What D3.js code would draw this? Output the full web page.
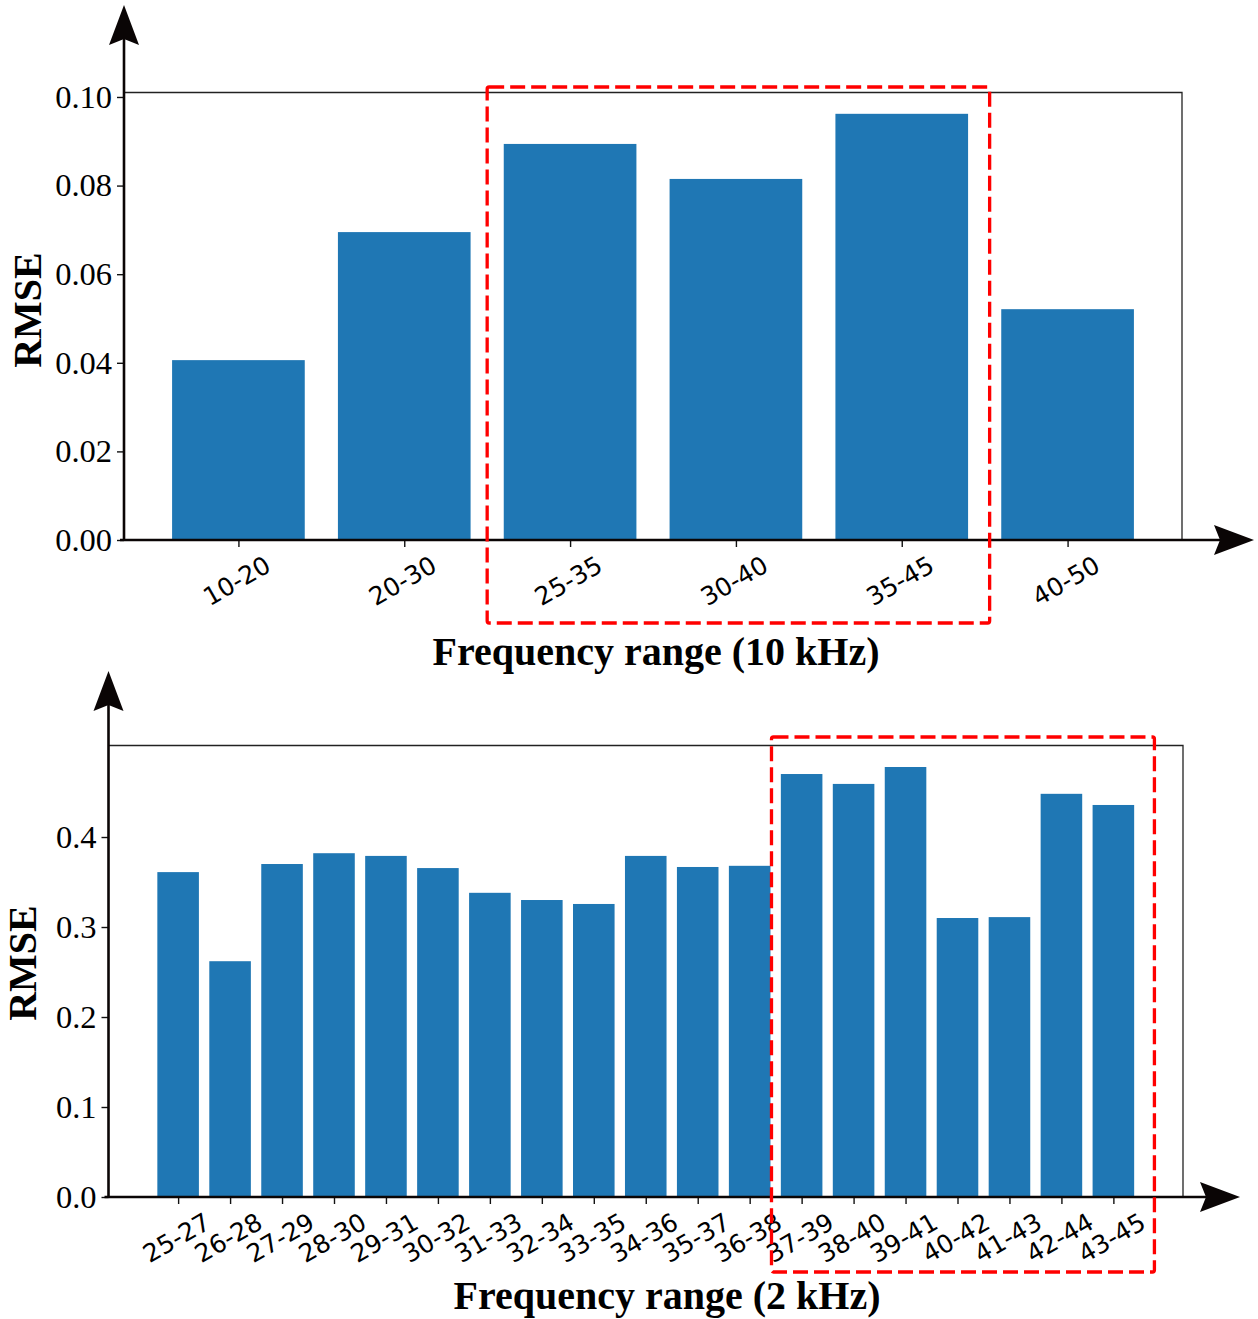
<!DOCTYPE html>
<html>
<head>
<meta charset="utf-8">
<script src="https://cdn.jsdelivr.net/npm/d3@7.9.0/dist/d3.min.js"></script>
<style>
  body { margin: 0; background: #fff; }
  svg { display: block; }
</style>
</head>
<body>
<svg id="chart" width="1258" height="1319"></svg>
<script>
// top panel: 10 kHz ranges
const rangesTop = ['10-20', '20-30', '25-35', '30-40', '35-45', '40-50'];
const rmseTop = [0.0406, 0.0695, 0.0894, 0.0815, 0.0962, 0.0521];
const yTicksTop = [0, 0.02, 0.04, 0.06, 0.08, 0.10];

// bottom panel: 2 kHz ranges
const rangesBottom = ['25-27', '26-28', '27-29', '28-30', '29-31', '30-32', '31-33',
  '32-34', '33-35', '34-36', '35-37', '36-38', '37-39', '38-40', '39-41', '40-42',
  '41-43', '42-44', '43-45'];
const rmseBottom = [0.361, 0.262, 0.370, 0.382, 0.379, 0.3655, 0.338, 0.330, 0.3256,
  0.379, 0.3667, 0.368, 0.470, 0.459, 0.4778, 0.310, 0.311, 0.448, 0.4356];
const yTicksBottom = [0, 0.1, 0.2, 0.3, 0.4];

const svg = d3.select('#chart');
const blue = '#1f77b4';
const serif = '"Liberation Serif", "Times New Roman", serif';
const sans = '"DejaVu Sans", sans-serif';

function arrowHead(g, tipX, tipY, dir) {
  // concave arrow head, 40 long, 30 wide
  const L = 40, W = 15, N = 6;
  let pts;
  if (dir === 'up') {
    pts = [[tipX, tipY], [tipX + W, tipY + L], [tipX, tipY + L - N], [tipX - W, tipY + L]];
  } else {
    pts = [[tipX, tipY], [tipX - L, tipY - W], [tipX - L + N, tipY], [tipX - L, tipY + W]];
  }
  g.append('path')
    .attr('d', d3.line()(pts) + 'Z')
    .attr('fill', '#0a0505');
}

function drawPanel(o) {
  const g = svg.append('g');
  const n = o.categories.length;
  const pad = 0.05 * (n - 0.2);
  const x = d3.scaleLinear()
    .domain([-0.4 - pad, n - 0.6 + pad])
    .range([o.left, o.right]);
  const y = d3.scaleLinear()
    .domain([0, d3.max(o.values) * 1.05])
    .range([o.bottom, o.top]);

  // bars
  g.selectAll('rect.bar')
    .data(o.values)
    .join('rect')
    .attr('class', 'bar')
    .attr('x', (d, i) => x(i - 0.4))
    .attr('width', x(0.8) - x(0))
    .attr('y', d => y(d))
    .attr('height', d => y(0) - y(d))
    .attr('fill', blue);

  // thin top/right frame
  g.append('path')
    .attr('d', `M${o.left},${o.top}H${o.right}V${o.bottom}`)
    .attr('fill', 'none')
    .attr('stroke', '#222')
    .attr('stroke-width', 1.3);

  // y axis
  const yAxis = d3.axisLeft(y)
    .tickValues(o.yTicks)
    .tickFormat(d3.format(o.yFormat))
    .tickSize(7)
    .tickPadding(5);
  const ya = g.append('g')
    .attr('transform', `translate(${o.left},0)`)
    .call(yAxis);
  ya.select('.domain').remove();
  ya.selectAll('line').attr('stroke', '#111').attr('stroke-width', 1.4);
  ya.selectAll('text')
    .attr('font-family', serif)
    .attr('font-size', 32.5)
    .attr('fill', '#000');

  // x axis
  const xAxis = d3.axisBottom(x)
    .tickValues(d3.range(n))
    .tickFormat(i => o.categories[i])
    .tickSize(7);
  const xa = g.append('g')
    .attr('transform', `translate(0,${o.bottom})`)
    .call(xAxis);
  xa.select('.domain').remove();
  xa.selectAll('line').attr('stroke', '#111').attr('stroke-width', 1.4);
  xa.selectAll('text')
    .attr('font-family', sans)
    .attr('font-size', 25)
    .attr('fill', '#000')
    .attr('text-anchor', 'middle')
    .attr('dy', null)
    .attr('y', null)
    .attr('dominant-baseline', 'central')
    .attr('transform', `translate(-2,${o.labelDrop}) rotate(-30)`);

  // heavy spines with arrows
  g.append('line')
    .attr('x1', o.left).attr('x2', o.left)
    .attr('y1', o.bottom + 1).attr('y2', o.arrowTop + 30)
    .attr('stroke', '#0a0505').attr('stroke-width', 2.6);
  g.append('line')
    .attr('x1', o.left - 4).attr('x2', o.arrowRight - 30)
    .attr('y1', o.bottom).attr('y2', o.bottom)
    .attr('stroke', '#0a0505').attr('stroke-width', 2.6);
  arrowHead(g, o.left, o.arrowTop, 'up');
  arrowHead(g, o.arrowRight, o.bottom, 'right');

  // highlight box
  g.append('rect')
    .attr('x', x(o.box[0]))
    .attr('width', x(o.box[1]) - x(o.box[0]))
    .attr('y', o.top - o.boxAbove)
    .attr('height', o.bottom - o.top + o.boxAbove + o.boxBelow)
    .attr('rx', 2)
    .attr('fill', 'none')
    .attr('stroke', '#ff0000')
    .attr('stroke-width', 3.3)
    .attr('stroke-dasharray', '15,6');

  // titles
  g.append('text')
    .attr('x', o.xLabelX)
    .attr('y', o.xLabelY)
    .attr('text-anchor', 'middle')
    .attr('font-family', serif)
    .attr('font-weight', 'bold')
    .attr('font-size', 40)
    .text(o.xLabel);
  g.append('text')
    .attr('transform', `translate(${o.yLabelX},${o.yLabelY}) rotate(-90)`)
    .attr('text-anchor', 'middle')
    .attr('dominant-baseline', 'central')
    .attr('font-family', serif)
    .attr('font-weight', 'bold')
    .attr('font-size', 40)
    .text('RMSE');
}

drawPanel({
  categories: rangesTop, values: rmseTop, yTicks: yTicksTop, yFormat: '.2f',
  left: 124, right: 1182, top: 92.5, bottom: 540,
  arrowTop: 5, arrowRight: 1254, labelDrop: 41,
  box: [1.5, 4.53], boxAbove: 5.5, boxBelow: 83,
  xLabel: 'Frequency range (10 kHz)', xLabelX: 656, xLabelY: 665,
  yLabelX: 27, yLabelY: 310
});

drawPanel({
  categories: rangesBottom, values: rmseBottom, yTicks: yTicksBottom, yFormat: '.1f',
  left: 108.5, right: 1183, top: 745.5, bottom: 1197,
  arrowTop: 671, arrowRight: 1240, labelDrop: 41,
  box: [11.42, 18.79], boxAbove: 8.5, boxBelow: 75,
  xLabel: 'Frequency range (2 kHz)', xLabelX: 667, xLabelY: 1309,
  yLabelX: 22, yLabelY: 963
});
</script>
</body>
</html>
